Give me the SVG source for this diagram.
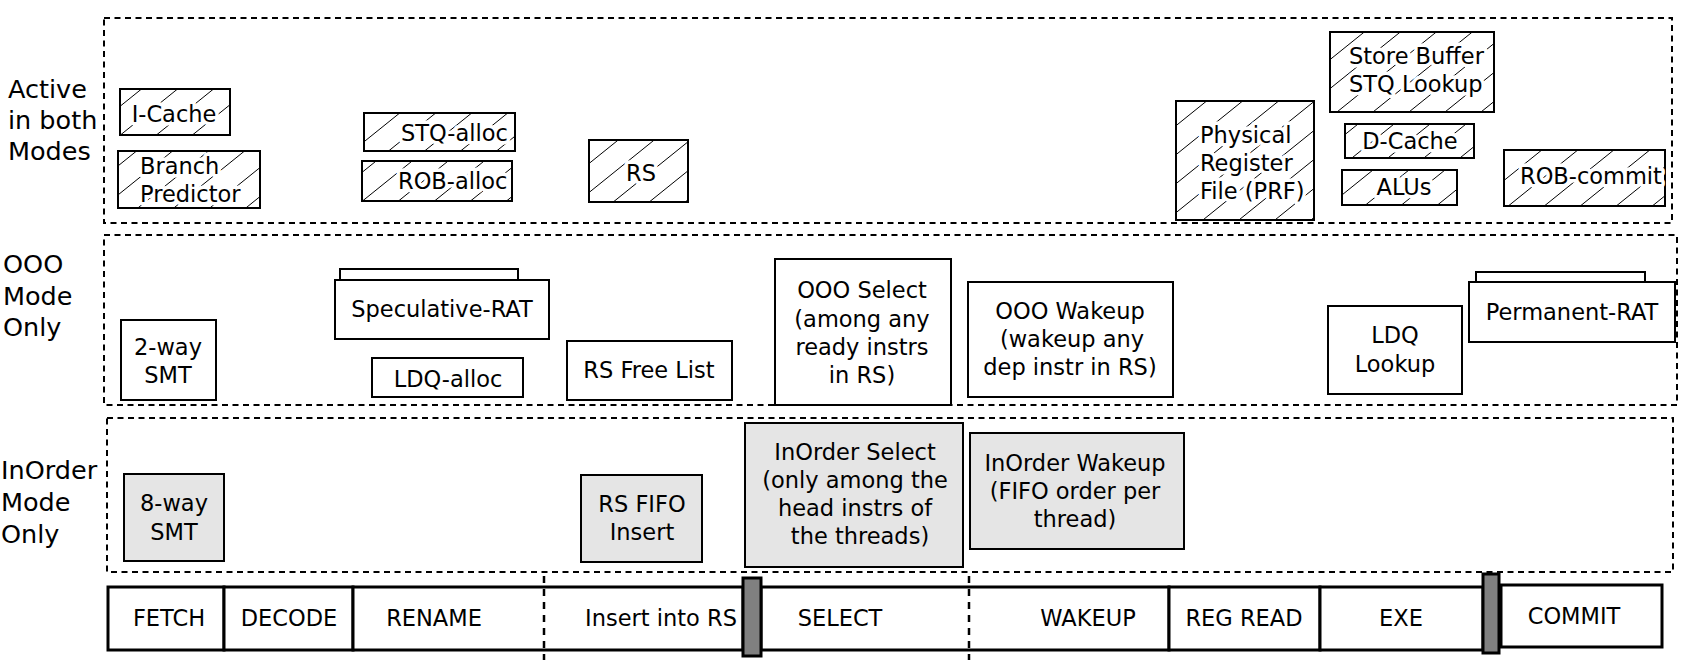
<svg xmlns="http://www.w3.org/2000/svg" width="1688" height="660" viewBox="0 0 1688 660">
<defs>
<pattern id="hatch" patternUnits="userSpaceOnUse" width="36" height="29">
<path d="M-9,7.25 L9,-7.25 M0,29 L36,0 M27,36.25 L45,21.75" stroke="#000" stroke-width="1" fill="none"/>
</pattern>
<style>
text{font-family:"DejaVu Sans","Liberation Sans",sans-serif;font-size:22.5px;fill:#000}
.lbl{font-size:25.5px}
.c{text-anchor:middle}
.s{text-anchor:start}
.halo{paint-order:stroke;stroke:#fff;stroke-width:7px;stroke-linejoin:round}
.region{fill:none;stroke:#000;stroke-width:2;stroke-dasharray:6 4.5}
.box{fill:#fff;stroke:#000;stroke-width:2}
.hbox{fill:url(#hatch);stroke:#000;stroke-width:2}
.gbox{fill:#e5e5e5;stroke:#000;stroke-width:2}
.pipe{fill:#fff;stroke:#000;stroke-width:3}
.latch{fill:#808080;stroke:#000;stroke-width:3}
.div{fill:none;stroke:#000;stroke-width:2.5;stroke-dasharray:7 6}
</style>
</defs>
<rect width="1688" height="660" fill="#fff"/>

<g id="region-labels">
<text class="lbl s" x="8" y="98">Active</text>
<text class="lbl s" x="8" y="129">in both</text>
<text class="lbl s" x="8" y="160">Modes</text>
<text class="lbl s" x="3" y="273">OOO</text>
<text class="lbl s" x="3" y="305">Mode</text>
<text class="lbl s" x="3" y="336">Only</text>
<text class="lbl s" x="1" y="479">InOrder</text>
<text class="lbl s" x="1" y="511">Mode</text>
<text class="lbl s" x="1" y="543">Only</text>
</g>

<g id="regions">
<rect class="region" x="104" y="18" width="1568" height="205"/>
<rect class="region" x="104" y="235" width="1573" height="170"/>
<rect class="region" x="107" y="418" width="1566" height="154"/>
</g>

<g id="icache"><rect class="hbox" x="120" y="89" width="110" height="46"/><text class="c halo" x="174" y="122">I-Cache</text></g>
<g id="branch-predictor"><rect class="hbox" x="118" y="151" width="142" height="57"/><text class="s halo" x="140" y="174">Branch</text><text class="s halo" x="140" y="202">Predictor</text></g>
<g id="stq-alloc"><rect class="hbox" x="364" y="113" width="151" height="38"/><text class="s halo" x="401" y="141">STQ-alloc</text></g>
<g id="rob-alloc"><rect class="hbox" x="362" y="161" width="150" height="40"/><text class="s halo" x="398" y="189">ROB-alloc</text></g>
<g id="rs"><rect class="hbox" x="589" y="140" width="99" height="62"/><text class="c halo" x="641" y="181">RS</text></g>
<g id="prf"><rect class="hbox" x="1176" y="101" width="138" height="119"/><text class="s halo" x="1200" y="143">Physical</text><text class="s halo" x="1200" y="171">Register</text><text class="s halo" x="1200" y="199">File (PRF)</text></g>
<g id="store-buffer"><rect class="hbox" x="1330" y="32" width="164" height="80"/><text class="s halo" x="1349" y="64">Store Buffer</text><text class="s halo" x="1349" y="92">STQ Lookup</text></g>
<g id="dcache"><rect class="hbox" x="1345" y="124" width="129" height="34"/><text class="c halo" x="1410" y="149">D-Cache</text></g>
<g id="alus"><rect class="hbox" x="1342" y="170" width="115" height="35"/><text class="c halo" x="1404" y="195">ALUs</text></g>
<g id="rob-commit"><rect class="hbox" x="1504" y="150" width="161" height="56"/><text class="s halo" x="1520" y="184">ROB-commit</text></g>

<g id="smt2"><rect class="box" x="121" y="320" width="95" height="80"/><text class="c" x="168" y="355">2-way</text><text class="c" x="168" y="383">SMT</text></g>
<g id="speculative-rat"><rect class="box" x="340" y="269" width="178" height="11"/><rect class="box" x="335" y="280" width="214" height="59"/><text class="c" x="442" y="317">Speculative-RAT</text></g>
<g id="ldq-alloc"><rect class="box" x="372" y="358" width="151" height="39"/><text class="c" x="448" y="387">LDQ-alloc</text></g>
<g id="rs-free-list"><rect class="box" x="567" y="341" width="165" height="59"/><text class="c" x="649" y="378">RS Free List</text></g>
<g id="ooo-select"><rect class="box" x="775" y="259" width="176" height="146"/><text class="c" x="862" y="298">OOO Select</text><text class="c" x="862" y="327">(among any</text><text class="c" x="862" y="355">ready instrs</text><text class="c" x="862" y="383">in RS)</text></g>
<g id="ooo-wakeup"><rect class="box" x="968" y="282" width="205" height="115"/><text class="c" x="1070" y="319">OOO Wakeup</text><text class="c" x="1072" y="347">(wakeup any</text><text class="c" x="1070" y="375">dep instr in RS)</text></g>
<g id="ldq-lookup"><rect class="box" x="1328" y="306" width="134" height="88"/><text class="c" x="1395" y="343">LDQ</text><text class="c" x="1395" y="372">Lookup</text></g>
<g id="permanent-rat"><rect class="box" x="1476" y="272" width="169" height="10"/><rect class="box" x="1469" y="282" width="206" height="60"/><text class="c" x="1572" y="320">Permanent-RAT</text></g>

<g id="smt8"><rect class="gbox" x="124" y="474" width="100" height="87"/><text class="c" x="174" y="511">8-way</text><text class="c" x="174" y="540">SMT</text></g>
<g id="rs-fifo-insert"><rect class="gbox" x="581" y="475" width="121" height="87"/><text class="c" x="642" y="512">RS FIFO</text><text class="c" x="642" y="540">Insert</text></g>
<g id="inorder-select"><rect class="gbox" x="745" y="423" width="218" height="144" stroke-width="2.5"/><text class="c" x="855" y="460">InOrder Select</text><text class="c" x="855" y="488">(only among the</text><text class="c" x="855" y="516">head instrs of</text><text class="c" x="860" y="544">the threads)</text></g>
<g id="inorder-wakeup"><rect class="gbox" x="970" y="433" width="214" height="116"/><text class="c" x="1075" y="471">InOrder Wakeup</text><text class="c" x="1075" y="499">(FIFO order per</text><text class="c" x="1075" y="527">thread)</text></g>

<g id="pipeline">
<g id="stage-fetch"><rect class="pipe" x="108" y="587" width="116" height="63"/><text class="c" x="169" y="626">FETCH</text></g>
<g id="stage-decode"><rect class="pipe" x="224" y="587" width="129" height="63"/><text class="c" x="289" y="626">DECODE</text></g>
<g id="stage-rename-insert"><rect class="pipe" x="353" y="587" width="390" height="63"/><text class="c" x="434" y="626">RENAME</text><text class="c" x="661" y="626">Insert into RS</text></g>
<g id="stage-select-wakeup"><rect class="pipe" x="761" y="587" width="408" height="63"/><text class="c" x="840" y="626">SELECT</text><text class="c" x="1088" y="626">WAKEUP</text></g>
<g id="stage-regread"><rect class="pipe" x="1169" y="587" width="151" height="63"/><text class="c" x="1244" y="626">REG READ</text></g>
<g id="stage-exe"><rect class="pipe" x="1320" y="587" width="163" height="63"/><text class="c" x="1401" y="626">EXE</text></g>
<g id="stage-commit"><rect class="pipe" x="1501" y="585" width="161" height="62"/><text class="c" x="1574" y="624">COMMIT</text></g>
<g id="latch-1"><rect class="latch" x="743" y="578" width="18" height="78"/></g>
<g id="latch-2"><rect class="latch" x="1483" y="574" width="16" height="79"/></g>
</g>

<g id="connectors">
<line class="div" x1="544" y1="576" x2="544" y2="660"/>
<line class="div" x1="969" y1="576" x2="969" y2="660"/>
</g>
</svg>
